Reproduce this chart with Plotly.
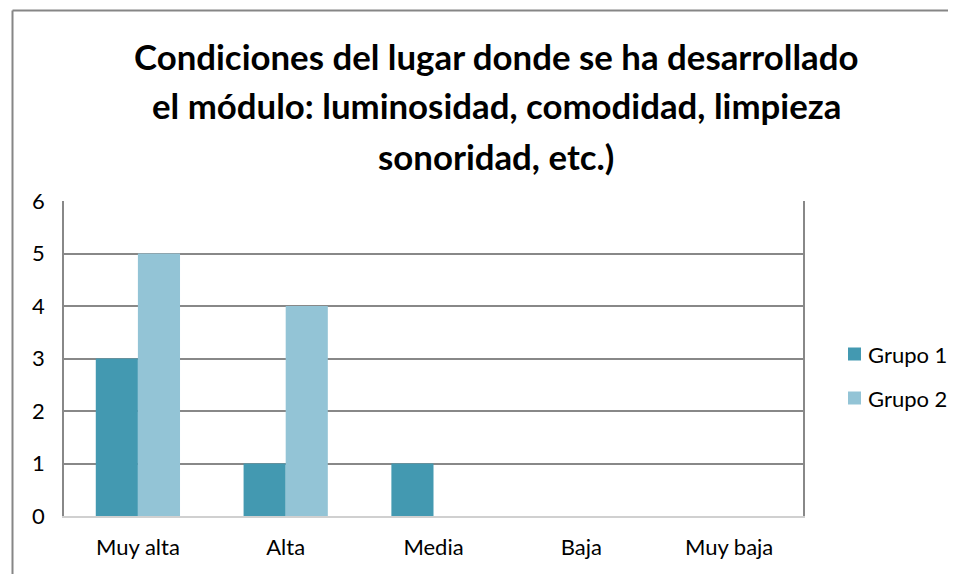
import plotly.graph_objects as go

categories = ["Muy alta", "Alta", "Media", "Baja", "Muy baja"]
grupo1 = [3, 1, 1, 0, 0]
grupo2 = [5, 4, 0, 0, 0]
series_names = ["Grupo 1", "Grupo 2"]
series_colors = ["#4399B1", "#93C4D6"]
title_lines = [
    "Condiciones del lugar donde se ha desarrollado",
    "el módulo: luminosidad, comodidad, limpieza",
    "sonoridad, etc.)",
]
y_ticks = [0, 1, 2, 3, 4, 5, 6]

W, H = 956, 574
OFF = 8  # page body margin
# target pixel positions in screenshot
PL, PR, PT, PB = 64, 803, 201, 516
L, T = PL - OFF, PT - OFF
R, B = W - (PR - OFF), H - (PB - OFF)
pw, ph = PR - PL, PB - PT

def px_x(x):
    return (x - PL) / pw

def px_y(y):
    return (PB - y) / ph

FONT = "Lato"

fig = go.Figure()
for name, vals, col in zip(series_names, [grupo1, grupo2], series_colors):
    fig.add_trace(go.Bar(x=categories, y=vals, name=name,
                         marker=dict(color=col, line=dict(width=0)),
                         showlegend=False))

annotations = []
for i, line in enumerate(title_lines):
    annotations.append(dict(
        text="<b>" + line + "</b>", xref="paper", yref="paper",
        x=px_x(496), y=px_y(56 + 50 * i), xanchor="center", yanchor="middle",
        showarrow=False, font=dict(family=FONT, size=34.8, color="#000000")))

shapes = [
    dict(type="line", xref="paper", yref="paper", x0=px_x(12.5), x1=px_x(980),
         y0=px_y(10.5), y1=px_y(10.5), line=dict(color="#868686", width=2)),
    dict(type="line", xref="paper", yref="paper", x0=px_x(12.5), x1=px_x(12.5),
         y0=px_y(10.5), y1=px_y(600), line=dict(color="#868686", width=2)),
]

# manual legend
for i, (name, col) in enumerate(zip(series_names, series_colors)):
    cy = 354 + 44 * i
    shapes.append(dict(type="rect", xref="paper", yref="paper",
                       x0=px_x(848), x1=px_x(861), y0=px_y(cy - 6.5), y1=px_y(cy + 6.5),
                       fillcolor=col, line=dict(width=0)))
    annotations.append(dict(text=name, xref="paper", yref="paper",
                            x=px_x(866), y=px_y(cy), xanchor="left", yanchor="middle",
                            showarrow=False, font=dict(family=FONT, size=22, color="#000000")))

fig.update_layout(
    width=W, height=H,
    margin=dict(l=L, r=R, t=T, b=B),
    paper_bgcolor="white", plot_bgcolor="white",
    barmode="group", bargap=0.43, bargroupgap=0,
    font=dict(family=FONT, size=22, color="#000000"),
    showlegend=False,
    annotations=annotations,
    shapes=shapes,
    xaxis=dict(showline=True, linecolor="#D0D0D0", linewidth=2, mirror=False,
               showgrid=False, ticks="", tickfont=dict(size=22),
               ticklabelstandoff=11),
    yaxis=dict(range=[0, 6], tickvals=y_ticks, showgrid=True, gridcolor="#888888",
               gridwidth=1.5, showline=True, linecolor="#888888", linewidth=1.5,
               mirror=True, ticks="", tickfont=dict(size=22),
               ticklabelstandoff=13, zeroline=False),
)

fig.write_html("out.html")
